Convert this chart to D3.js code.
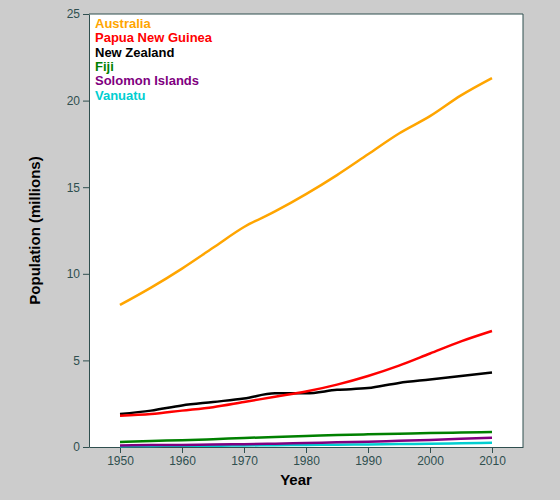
<!DOCTYPE html>
<html><head><meta charset="utf-8">
<script src="https://cdn.jsdelivr.net/npm/d3@7"></script>
<style>body{margin:0;background:#cccccc;}</style>
</head><body><div id="chart"></div>
<script>
var years = [1950,1955,1960,1965,1970,1975,1980,1985,1990,1995,2000,2005,2010];
var countries = ["Australia","Papua New Guinea","New Zealand","Fiji","Solomon Islands","Vanuatu"];
var colors = ["orange","red","black","green","purple","darkturquoise"];
var australia = [8.2,9.2,10.3,11.5,12.7,13.6,14.6,15.7,16.9,18.1,19.1,20.3,21.3];
var png = [1.8,1.9,2.1,2.3,2.6,2.9,3.2,3.6,4.1,4.7,5.4,6.1,6.7];
var nz = [1.9,2.1,2.4,2.6,2.8,3.1,3.1,3.3,3.4,3.7,3.9,4.1,4.3];
var fiji = [0.29,0.35,0.39,0.45,0.52,0.58,0.63,0.69,0.73,0.77,0.81,0.83,0.86];
var solomon = [0.09,0.11,0.12,0.14,0.16,0.19,0.23,0.27,0.31,0.36,0.41,0.47,0.54];
var vanuatu = [0.05,0.06,0.07,0.07,0.09,0.1,0.12,0.13,0.15,0.17,0.19,0.21,0.24];
var series = [australia,png,nz,fiji,solomon,vanuatu];

var margin = {top: 14, right: 37, bottom: 53, left: 89},
  width = 560 - margin.left - margin.right,
  height = 500 - margin.top - margin.bottom;

var svg = d3.select("#chart").append("svg")
  .attr("width", 560).attr("height", 500)
  .style("font-family", "Arial, 'Liberation Sans', sans-serif");
var g = svg.append("g").attr("transform", "translate(" + margin.left + "," + margin.top + ")");

g.append("rect").attr("width", width).attr("height", height).attr("fill", "white");

var x = d3.scaleLinear().domain([1945, 2015]).range([0, width]);
var y = d3.scaleLinear().domain([0, 25]).range([height, 0]);

var xAxis = g.append("g").attr("transform", "translate(0," + height + ")")
  .call(d3.axisBottom(x).tickValues([1950,1960,1970,1980,1990,2000,2010]).tickFormat(d3.format("d")).tickSizeOuter(0));
var yAxis = g.append("g").call(d3.axisLeft(y).ticks(5).tickSizeOuter(0));
[xAxis, yAxis].forEach(function(a) {
  a.selectAll("path,line").attr("stroke", "#2f4f4f");
  a.selectAll("text").attr("fill", "#2f4f4f").style("font-size", "12px");
});
// right and top border
g.append("line").attr("x1", width).attr("x2", width).attr("y1", 0).attr("y2", height).attr("stroke", "#2f4f4f");
g.append("line").attr("x1", 0).attr("x2", width).attr("y1", 0).attr("y2", 0).attr("stroke", "#2f4f4f");

var line = d3.line().x(function(d, i) { return x(years[i]); }).y(function(d) { return y(d); }).curve(d3.curveMonotoneX);
series.slice().reverse().forEach(function(s, k) {
  var i = series.length - 1 - k;
  g.append("path").datum(s).attr("d", line).attr("fill", "none")
    .attr("stroke", colors[i]).attr("stroke-width", 2.5);
});

countries.forEach(function(c, i) {
  g.append("text").attr("x", 6).attr("y", 14 + i * 14.3).text(c)
    .attr("fill", colors[i]).style("font-weight", "bold").style("font-size", "13px");
});

svg.append("text").attr("x", margin.left + width / 2 - 10).attr("y", 485).attr("text-anchor", "middle")
  .style("font-weight", "bold").style("font-size", "15px").text("Year");
svg.append("text").attr("transform", "translate(40," + (margin.top + height / 2) + ") rotate(-90)")
  .attr("text-anchor", "middle").style("font-weight", "bold").style("font-size", "15px").text("Population (millions)");
</script></body></html>
